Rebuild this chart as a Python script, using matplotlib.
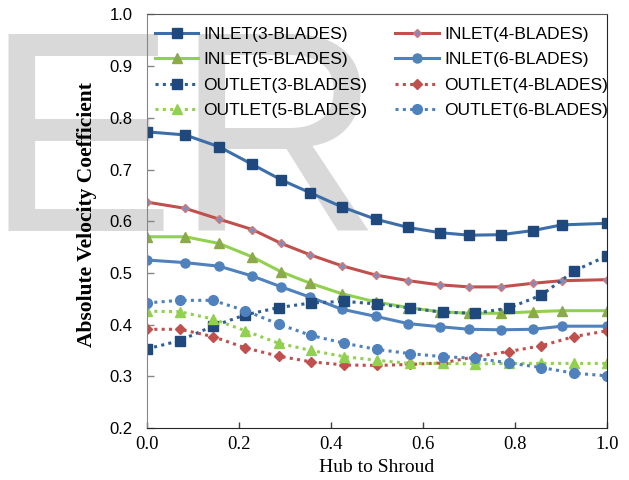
import matplotlib
matplotlib.use("Agg")
import matplotlib.pyplot as plt

# hub-to-shroud positions (inlet points are not evenly spaced)
x_inlet = [0.0, 0.083, 0.157, 0.229, 0.292, 0.355, 0.423, 0.497, 0.568, 0.636, 0.701, 0.769, 0.839, 0.902, 1.0]
x_outlet = [0.0, 0.071, 0.143, 0.214, 0.286, 0.357, 0.429, 0.5, 0.571, 0.643, 0.714, 0.786, 0.857, 0.929, 1.0]

inlet3 = [0.773, 0.767, 0.744, 0.710, 0.680, 0.655, 0.628, 0.604, 0.588, 0.578, 0.573, 0.574, 0.582, 0.593, 0.596]
inlet4 = [0.637, 0.625, 0.604, 0.584, 0.557, 0.535, 0.514, 0.496, 0.485, 0.477, 0.473, 0.473, 0.480, 0.485, 0.487]
inlet5 = [0.570, 0.570, 0.557, 0.531, 0.502, 0.480, 0.460, 0.444, 0.433, 0.425, 0.422, 0.422, 0.425, 0.427, 0.427]
inlet6 = [0.525, 0.520, 0.513, 0.494, 0.473, 0.453, 0.430, 0.416, 0.402, 0.396, 0.391, 0.390, 0.391, 0.397, 0.397]

outlet3 = [0.353, 0.369, 0.397, 0.419, 0.433, 0.442, 0.445, 0.440, 0.432, 0.424, 0.422, 0.432, 0.457, 0.504, 0.533]
outlet4 = [0.391, 0.391, 0.377, 0.355, 0.339, 0.328, 0.322, 0.321, 0.323, 0.326, 0.338, 0.348, 0.359, 0.377, 0.388]
outlet5 = [0.426, 0.425, 0.411, 0.388, 0.364, 0.350, 0.338, 0.331, 0.325, 0.325, 0.324, 0.325, 0.325, 0.325, 0.325]
outlet6 = [0.442, 0.447, 0.447, 0.427, 0.401, 0.379, 0.364, 0.352, 0.344, 0.338, 0.335, 0.326, 0.317, 0.306, 0.301]

x_ticks = [0.0, 0.2, 0.4, 0.6, 0.8, 1.0]
y_ticks = [0.2, 0.3, 0.4, 0.5, 0.6, 0.7, 0.8, 0.9, 1.0]

fig = plt.figure(figsize=(6.29, 4.8), dpi=100)
ax = fig.add_axes([0.2337, 0.1083, 0.7313, 0.8615])
ax.set_facecolor("none")

# grey "E" and "R" watermark behind everything
fig.text(-15 / 629, 0.519, "E", fontsize=206, family="Liberation Sans",
         color="#D9D9D9", ha="left", va="baseline", zorder=-1)
fig.text(175 / 629, 0.519, "R", fontsize=206, family="Liberation Sans",
         color="#D9D9D9", ha="left", va="baseline", zorder=-1)

dot = (0, (1, 1.4))
lw = 2.2

# inlet lines
ax.plot(x_inlet, inlet3, color="#3C6EAA", lw=lw, marker="s", ms=6.5,
        mfc="#1F497D", mec="#1F497D", label="INLET(3-BLADES)")
ax.plot(x_inlet, inlet4, color="#C0504D", lw=lw, marker="D", ms=4,
        mfc="#7E8CC0", mec="#D07A78", label="INLET(4-BLADES)")
ax.plot(x_inlet, inlet5, color="#92D050", lw=lw, marker="^", ms=6.5,
        mfc="#8AAA4C", mec="#8AAA4C", label="INLET(5-BLADES)")
ax.plot(x_inlet, inlet6, color="#4F81BD", lw=lw, marker="o", ms=6.5,
        mfc="#4F81BD", mec="#4F81BD", label="INLET(6-BLADES)")

# outlet lines (dotted)
ax.plot(x_outlet, outlet3, color="#2F5F95", lw=lw, ls=dot, marker="s", ms=7,
        mfc="#1F497D", mec="#1F497D", label="OUTLET(3-BLADES)")
ax.plot(x_outlet, outlet4, color="#C0504D", lw=lw, ls=dot, marker="D", ms=5.5,
        mfc="#C0504D", mec="#C0504D", label="OUTLET(4-BLADES)")
ax.plot(x_outlet, outlet5, color="#92D050", lw=lw, ls=dot, marker="^", ms=6.5,
        mfc="#92D050", mec="#92D050", label="OUTLET(5-BLADES)")
ax.plot(x_outlet, outlet6, color="#4F81BD", lw=lw, ls=dot, marker="o", ms=7,
        mfc="#4F81BD", mec="#4F81BD", label="OUTLET(6-BLADES)")

ax.set_xlim(0, 1)
ax.set_ylim(0.2, 1.0)
ax.set_xticks(x_ticks)
ax.set_yticks(y_ticks)
ax.set_xticklabels(["%.1f" % v for v in x_ticks], family="Liberation Serif", fontsize=13.5)
ax.set_yticklabels(["%.1f" % v for v in y_ticks], family="Liberation Sans", fontsize=12)
ax.tick_params(axis="y", direction="in", length=5, width=1, color="#868686", pad=10.5)
ax.tick_params(axis="x", direction="in", length=4, width=1, color="#404040", pad=6)
for s in ["top", "right", "bottom"]:
    ax.spines[s].set_color("#262626")
ax.spines["left"].set_color("#868686")
ax.spines["top"].set_color("#595959")

ax.set_xlabel("Hub to Shroud", family="Liberation Serif", fontsize=14, labelpad=4)
ax.set_ylabel("Absolute Velocity Coefficient", family="Liberation Serif",
              fontsize=15.5, fontweight="bold")
ax.yaxis.set_label_coords(-0.108, 0.516)

h, l = ax.get_legend_handles_labels()
order = [0, 2, 4, 6, 1, 3, 5, 7]
ax.legend([h[i] for i in order], [l[i] for i in order], ncol=2, frameon=False,
          loc="upper left", bbox_to_anchor=(155 / 629, 1 - 27 / 480),
          bbox_transform=fig.transFigure, borderpad=0, borderaxespad=0,
          prop={"family": "Liberation Sans", "size": 12.5},
          handlelength=2.5, handletextpad=0.3, labelspacing=0.58, columnspacing=1.6)

fig.savefig("out.png", dpi=100)
